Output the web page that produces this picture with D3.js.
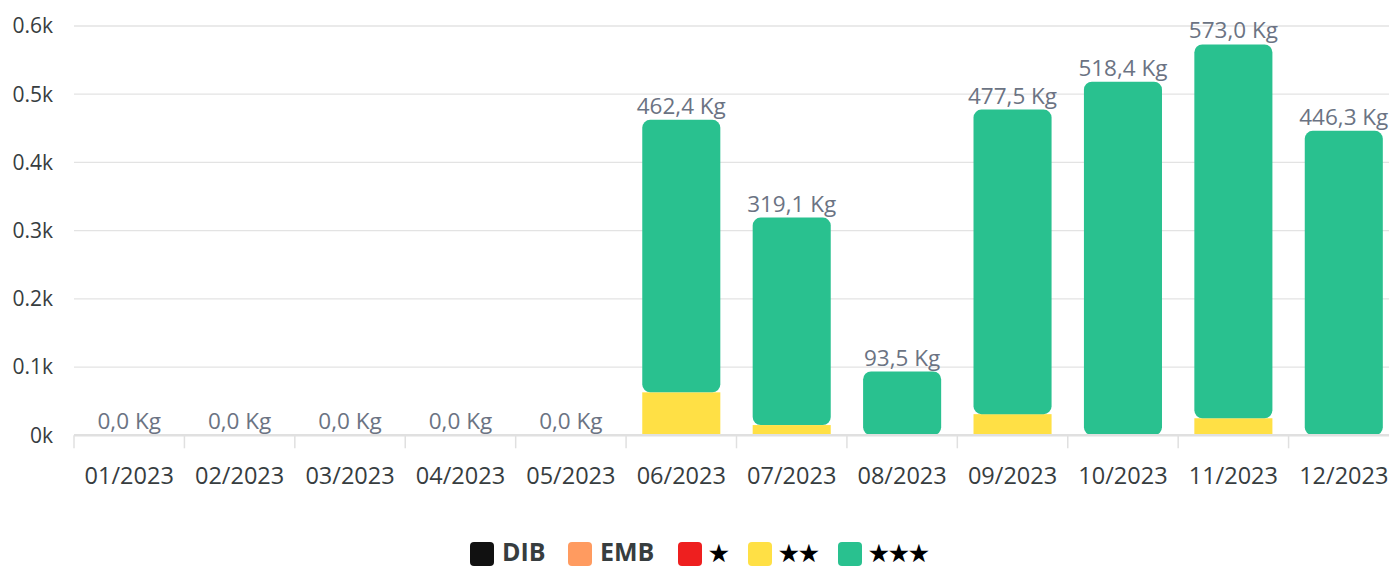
<!DOCTYPE html>
<html>
<head>
<meta charset="UTF-8">
<title>Kg per month</title>
<script src="https://cdn.jsdelivr.net/npm/d3@7"></script>
<style>
    body { margin: 0; background: #fff; font-family: "Open Sans", sans-serif; }
    svg { display: block; }
</style>
</head>
<body>
<div id="chart"></div>
<script>
    // data
    const months = ["01/2023", "02/2023", "03/2023", "04/2023", "05/2023", "06/2023",
                    "07/2023", "08/2023", "09/2023", "10/2023", "11/2023", "12/2023"];
    const dib = [0, 0, 0, 0, 0, 0, 0, 0, 0, 0, 0, 0];
    const emb = [0, 0, 0, 0, 0, 0, 0, 0, 0, 0, 0, 0];
    const star1 = [0, 0, 0, 0, 0, 0, 0, 0, 0, 0, 0, 0];
    const star2 = [0, 0, 0, 0, 0, 63, 15, 0, 31, 0, 25, 0];
    const star3 = [0, 0, 0, 0, 0, 399.4, 304.1, 93.5, 446.5, 518.4, 548.0, 446.3];
    const yTicks = [0, 100, 200, 300, 400, 500, 600];
    const seriesNames = ["DIB", "EMB", "★", "★★", "★★★"];
    const seriesColors = ["#111111", "#ff9b60", "#ee1f1f", "#ffe045", "#29c18f"];

    const W = 1389, H = 567;
    const plotLeft = 74, plotRight = 1399, plotTop = 26, plotBottom = 435.3;

    const svg = d3.select("#chart").append("svg")
        .attr("width", W)
        .attr("height", H);

    const y = d3.scaleLinear().domain([0, 600]).range([plotBottom, plotTop]);
    const xBand = d3.scaleBand().domain(months).range([plotLeft, plotRight]);
    const x = d3.scaleBand().domain(months).range([plotLeft, plotRight])
        .paddingInner(0.293).paddingOuter(0.1465);

    // grid
    svg.append("g").selectAll("line")
        .data(yTicks.filter(d => d > 0))
        .join("line")
        .attr("x1", plotLeft).attr("x2", W)
        .attr("y1", d => y(d)).attr("y2", d => y(d))
        .attr("stroke", "#e3e3e3")
        .attr("stroke-width", 1.3);

    // y labels
    svg.append("g").selectAll("text")
        .data(yTicks)
        .join("text")
        .attr("x", 53)
        .attr("y", d => y(d))
        .attr("dy", "0.35em")
        .attr("text-anchor", "end")
        .attr("font-size", 21)
        .attr("fill", "#373d3f")
        .text(d => d === 0 ? "0k" : (d / 1000).toFixed(1) + "k");

    // stacked bars
    const rows = months.map((m, i) => ({
        month: m, DIB: dib[i], EMB: emb[i], "★": star1[i], "★★": star2[i], "★★★": star3[i]
    }));
    const stack = d3.stack().keys(seriesNames)(rows);

    stack.forEach((layer, k) => {
        const last = k === seriesNames.length - 1;
        svg.append("g").selectAll("rect")
            .data(layer.filter(d => d[1] - d[0] > 0))
            .join("rect")
            .attr("x", d => x(d.data.month))
            .attr("width", x.bandwidth())
            .attr("y", d => y(d[1]))
            .attr("height", d => y(d[0]) - y(d[1]))
            .attr("rx", last ? 8 : 0)
            .attr("fill", seriesColors[k]);
    });

    // x axis
    const axis = svg.append("g");
    axis.append("line")
        .attr("x1", plotLeft).attr("x2", W)
        .attr("y1", plotBottom).attr("y2", plotBottom)
        .attr("stroke", "#e0e0e0")
        .attr("stroke-width", 2.5);
    axis.selectAll(".tick")
        .data(months.concat(["end"]))
        .join("line")
        .attr("class", "tick")
        .attr("x1", (d, i) => plotLeft + i * xBand.step())
        .attr("x2", (d, i) => plotLeft + i * xBand.step())
        .attr("y1", plotBottom).attr("y2", plotBottom + 13)
        .attr("stroke", "#e0e0e0")
        .attr("stroke-width", 1.5);
    axis.selectAll("text")
        .data(months)
        .join("text")
        .attr("x", d => xBand(d) + xBand.bandwidth() / 2)
        .attr("y", 484)
        .attr("text-anchor", "middle")
        .attr("font-size", 23.5)
        .attr("fill", "#373d3f")
        .text(d => d);

    // totals
    const totals = months.map((m, i) => dib[i] + emb[i] + star1[i] + star2[i] + star3[i]);
    svg.append("g").selectAll("text")
        .data(months)
        .join("text")
        .attr("x", d => x(d) + x.bandwidth() / 2)
        .attr("y", (d, i) => y(totals[i]) - 6)
        .attr("text-anchor", "middle")
        .attr("font-size", 22.5)
        .attr("fill", "#6b7383")
        .text((d, i) => totals[i].toFixed(1).replace(".", ",") + " Kg");

    // legend
    const legendX = [470, 568, 678, 748, 838];
    const legend = svg.append("g").selectAll("g")
        .data(seriesNames)
        .join("g")
        .attr("transform", (d, i) => "translate(" + legendX[i] + ",542)");
    legend.append("rect")
        .attr("width", 24).attr("height", 24)
        .attr("rx", 4)
        .attr("fill", (d, i) => seriesColors[i]);
    legend.append("text")
        .attr("x", (d, i) => i < 2 ? 32 : 31)
        .attr("y", 19)
        .attr("font-size", (d, i) => i < 2 ? 25 : 22)
        .attr("font-weight", "bold")
        .attr("fill", (d, i) => i < 2 ? "#373d3f" : "#000")
        .text(d => d);
</script>
</body>
</html>
